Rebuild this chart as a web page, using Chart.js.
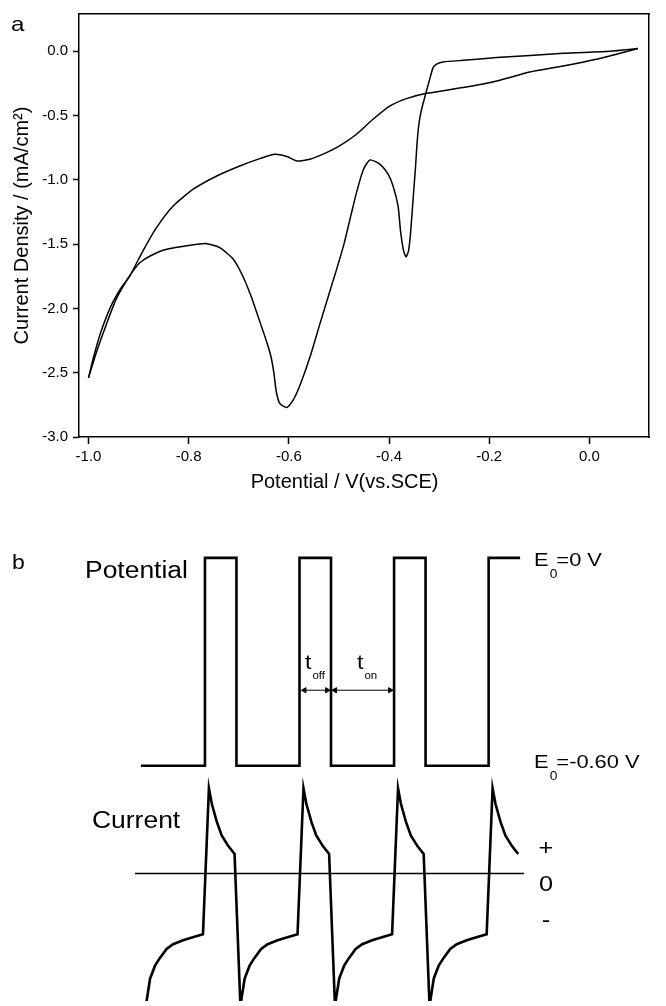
<!DOCTYPE html>
<html lang="en">
<head>
<meta charset="UTF-8">
<title>Cyclic voltammogram and pulse scheme</title>
<script src="https://cdn.jsdelivr.net/npm/chart.js"></script>
<style>
    body { margin: 0; padding: 0; background: #fff; }
    #wrap { position: relative; width: 666px; height: 1006px; }
    canvas { position: absolute; left: 0; }
    #cvChart { top: 0; }
    #pulseChart { top: 500px; }
</style>
</head>
<body>
<div id="wrap">
    <canvas id="cvChart" width="666" height="500"></canvas>
    <canvas id="pulseChart" width="666" height="506"></canvas>
</div>
<script>
// ---- panel a: cyclic voltammogram (V vs SCE, mA/cm2) ----
// cathodic scan, 0.1 V -> -1.0 V
const fwdV = [0.097, 0.041, -0.052, -0.185, -0.252, -0.292, -0.305, -0.312, -0.318, -0.328,
    -0.335, -0.340, -0.344, -0.347, -0.352, -0.357, -0.361, -0.366, -0.371, -0.377,
    -0.382, -0.392, -0.402, -0.418, -0.438, -0.451, -0.465, -0.478, -0.490, -0.505,
    -0.520, -0.538, -0.558, -0.578, -0.591, -0.604, -0.618, -0.625, -0.630, -0.636,
    -0.646, -0.660, -0.676, -0.693, -0.711, -0.738, -0.764, -0.797, -0.844, -0.877,
    -0.897, -0.911, -0.925, -0.945, -0.965, -0.985, -1.000];
const fwdJ = [0.021, 0.000, -0.016, -0.049, -0.070, -0.083, -0.100, -0.127, -0.205, -0.348,
    -0.451, -0.555, -0.710, -0.892, -1.151, -1.410, -1.550, -1.600, -1.550, -1.400,
    -1.203, -1.047, -0.956, -0.879, -0.845, -0.918, -1.099, -1.306, -1.500, -1.700,
    -1.890, -2.120, -2.380, -2.600, -2.710, -2.770, -2.740, -2.650, -2.500, -2.370,
    -2.240, -2.080, -1.900, -1.740, -1.617, -1.527, -1.496, -1.508, -1.540, -1.592,
    -1.643, -1.708, -1.790, -1.930, -2.130, -2.350, -2.540];
// anodic scan, -1.0 V -> 0.1 V
const revV = [-1.000, -0.990, -0.975, -0.955, -0.935, -0.918, -0.891, -0.864, -0.831, -0.791,
    -0.744, -0.698, -0.658, -0.628, -0.604, -0.584, -0.558, -0.525, -0.498, -0.465,
    -0.432, -0.398, -0.365, -0.325, -0.252, -0.185, -0.119, -0.052, 0.014, 0.067, 0.097];
const revJ = [-2.540, -2.380, -2.180, -1.980, -1.840, -1.750, -1.550, -1.370, -1.203, -1.073,
    -0.970, -0.892, -0.835, -0.801, -0.819, -0.853, -0.840, -0.788, -0.734, -0.645,
    -0.529, -0.425, -0.368, -0.327, -0.282, -0.231, -0.161, -0.114, -0.062, -0.010, 0.021];

const xMajor = [-1.0, -0.8, -0.6, -0.4, -0.2, 0.0];
const xMinor = [-1.0, -0.9, -0.8, -0.7, -0.6, -0.5, -0.4, -0.3, -0.2, -0.1, 0.0, 0.1];
const yMajor = [-3.0, -2.5, -2.0, -1.5, -1.0, -0.5, 0.0];
const yMinor = [-3.0, -2.75, -2.5, -2.25, -2.0, -1.75, -1.5, -1.25, -1.0, -0.75, -0.5, -0.25, 0.0, 0.25];

// ---- panel b: pulse scheme (t in pulse periods) ----
const potT = [0.323, 1.0, 1.0, 1.333, 1.333, 2.0, 2.0, 2.333, 2.333, 3.0, 3.0, 3.333, 3.333, 4.0, 4.0, 4.333];
const potE = [-0.6, -0.6, 0, 0, -0.6, -0.6, 0, 0, -0.6, -0.6, 0, 0, -0.6, -0.6, 0, 0];

const curT = [0.375, 0.420, 0.472, 0.524, 0.594, 0.663, 0.768, 0.872, 0.979,
    1.042, 1.073, 1.125, 1.177, 1.247, 1.313,
    1.375, 1.420, 1.472, 1.524, 1.594, 1.663, 1.768, 1.872, 1.979,
    2.042, 2.073, 2.125, 2.177, 2.247, 2.313,
    2.375, 2.420, 2.472, 2.524, 2.594, 2.663, 2.768, 2.872, 2.979,
    3.042, 3.073, 3.125, 3.177, 3.247, 3.313,
    3.375, 3.420, 3.472, 3.524, 3.594, 3.663, 3.768, 3.872, 3.979,
    4.042, 4.073, 4.125, 4.177, 4.247, 4.313];
const curI = [-1.55, -1.23, -1.08, -0.989, -0.885, -0.828, -0.782, -0.747, -0.713,
    1.0, 0.816, 0.609, 0.448, 0.322, 0.23,
    -1.55, -1.23, -1.08, -0.989, -0.885, -0.828, -0.782, -0.747, -0.713,
    1.0, 0.816, 0.609, 0.448, 0.322, 0.23,
    -1.55, -1.23, -1.08, -0.989, -0.885, -0.828, -0.782, -0.747, -0.713,
    1.0, 0.816, 0.609, 0.448, 0.322, 0.23,
    -1.55, -1.23, -1.08, -0.989, -0.885, -0.828, -0.782, -0.747, -0.713,
    1.0, 0.816, 0.609, 0.448, 0.322, 0.23];
const zeroT = [0.26, 4.375];
const zeroI = [0, 0];
const toffT = [2.052, 2.292];
const tonT = [2.375, 2.958];
const arrowE = [-0.382, -0.382];

const FONT = '"Liberation Sans", Arial, sans-serif';
Chart.defaults.font.family = FONT;
Chart.defaults.color = '#000';

const pts = (xs, ys) => xs.map((x, i) => ({ x: x, y: ys[i] }));
const fmt = v => (Math.abs(v) < 1e-9 ? 0 : v).toFixed(1);
const setTicks = arr => scale => { scale.ticks = arr.map(v => ({ value: v })); };

// text slightly widened, like the original figure
function label(ctx, str, x, y, size, align) {
    ctx.save();
    ctx.font = size + 'px ' + FONT;
    ctx.fillStyle = '#000';
    ctx.textAlign = align || 'left';
    ctx.textBaseline = 'middle';
    ctx.translate(x, y);
    ctx.scale(1.15, 1);
    ctx.fillText(str, 0, 0);
    const w = ctx.measureText(str).width * 1.15;
    ctx.restore();
    return w;
}

const X_MIN = -1.019, X_MAX = 0.119, Y_MIN = -3.0, Y_MAX = 0.29;
const frame = { display: true, width: 1.5, color: '#000' };
const tickGrid = len => ({ drawOnChartArea: false, tickLength: len, tickWidth: 1.5, tickColor: '#000' });

const cvLine = { showLine: true, borderColor: '#000', borderWidth: 1.5, pointRadius: 0, tension: 0.2 };

new Chart(document.getElementById('cvChart'), {
    type: 'scatter',
    data: {
        datasets: [
            Object.assign({ data: pts(fwdV, fwdJ) }, cvLine),
            Object.assign({ data: pts(revV, revJ) }, cvLine)
        ]
    },
    options: {
        responsive: false,
        animation: false,
        layout: { padding: { left: 0, top: 14, right: 17, bottom: 0 } },
        plugins: { legend: { display: false }, tooltip: { enabled: false } },
        scales: {
            x: {
                type: 'linear', position: 'bottom', min: X_MIN, max: X_MAX,
                afterBuildTicks: setTicks(xMajor),
                afterFit: s => { s.height = 63; },
                grid: tickGrid(7),
                border: frame,
                ticks: { padding: 4, font: { size: 15 }, maxRotation: 0, autoSkip: false, callback: fmt },
                title: { display: true, text: 'Potential / V(vs.SCE)\u00a0\u00a0\u00a0\u00a0\u00a0\u00a0\u00a0', font: { size: 20 }, padding: { top: 0, bottom: 6 } }
            },
            xMinor: {
                type: 'linear', position: 'bottom', min: X_MIN, max: X_MAX,
                afterBuildTicks: setTicks(xMinor),
                afterFit: s => { s.height = 0; },
                grid: tickGrid(4),
                border: { display: false },
                ticks: { display: false }
            },
            xTop: {
                type: 'linear', position: 'top', min: X_MIN, max: X_MAX,
                afterFit: s => { s.height = 0; },
                grid: { display: false, drawTicks: false },
                border: frame,
                ticks: { display: false }
            },
            y: {
                type: 'linear', position: 'left', min: Y_MIN, max: Y_MAX,
                afterBuildTicks: setTicks(yMajor),
                afterFit: s => { s.width = 79; },
                grid: tickGrid(6),
                border: frame,
                ticks: { padding: 5, font: { size: 15 }, autoSkip: false, callback: fmt },
                title: { display: true, text: 'Current Density / (mA/cm\u00b2)', font: { size: 20 }, padding: { top: 10, bottom: 0 } }
            },
            yMinor: {
                type: 'linear', position: 'left', min: Y_MIN, max: Y_MAX,
                afterBuildTicks: setTicks(yMinor),
                afterFit: s => { s.width = 0; },
                grid: tickGrid(3),
                border: { display: false },
                ticks: { display: false }
            },
            yRight: {
                type: 'linear', position: 'right', min: Y_MIN, max: Y_MAX,
                afterFit: s => { s.width = 0; },
                grid: { display: false, drawTicks: false },
                border: frame,
                ticks: { display: false }
            }
        }
    },
    plugins: [{
        id: 'panelA',
        afterDraw(chart) {
            label(chart.ctx, 'a', 11, 25, 21);
        }
    }]
});

const thick = { showLine: true, borderColor: '#000', borderWidth: 2.6, pointRadius: 0, tension: 0, borderJoinStyle: 'miter' };
const arrow = {
    showLine: true, borderColor: '#000', borderWidth: 1, yAxisID: 'yPot',
    pointStyle: 'triangle', pointRadius: 3, pointRotation: [270, 90],
    pointBackgroundColor: '#000', pointBorderColor: '#000', pointBorderWidth: 1
};

new Chart(document.getElementById('pulseChart'), {
    type: 'scatter',
    data: {
        datasets: [
            Object.assign({ data: pts(potT, potE), yAxisID: 'yPot' }, thick),
            Object.assign({ data: pts(curT, curI), yAxisID: 'yCur' }, thick),
            { data: pts(zeroT, zeroI), yAxisID: 'yCur', showLine: true, borderColor: '#000', borderWidth: 1.5, pointRadius: 0 },
            Object.assign({ data: pts(toffT, arrowE) }, arrow),
            Object.assign({ data: pts(tonT, arrowE) }, arrow)
        ]
    },
    options: {
        responsive: false,
        animation: false,
        layout: { padding: 0 },
        plugins: { legend: { display: false }, tooltip: { enabled: false } },
        scales: {
            x: { type: 'linear', display: false, min: -1.1146, max: 5.8229 },
            yPot: { type: 'linear', display: false, min: -1.2793, max: 0.1528 },
            yCur: { type: 'linear', display: false, min: -1.4943, max: 4.3218 }
        }
    },
    plugins: [{
        id: 'panelB',
        afterDraw(chart) {
            const ctx = chart.ctx;
            const xs = chart.scales.x, yp = chart.scales.yPot, yc = chart.scales.yCur;
            label(ctx, 'b', 12, 63, 20);
            label(ctx, 'Potential', 85, 72, 23);
            label(ctx, 'Current', 92, 322, 23);

            const ex = xs.getPixelForValue(4.333) + 14;
            [[0, '=0 V'], [-0.6, '=-0.60 V']].forEach(([lvl, rest]) => {
                const y = yp.getPixelForValue(lvl) + (lvl === 0 ? 3 : -3);
                const w = label(ctx, 'E', ex, y, 19);
                const ws = label(ctx, '0', ex + w + 1, y + 14, 12);
                label(ctx, rest, ex + w + ws, y, 19);
            });

            const y0 = yc.getPixelForValue(0);
            label(ctx, '+', 546, y0 - 25, 22, 'center');
            label(ctx, '0', 546, y0 + 11, 22, 'center');
            label(ctx, '-', 546, y0 + 47, 22, 'center');

            const ya = yp.getPixelForValue(arrowE[0]);
            let w = label(ctx, 't', 305, ya - 27, 20);
            label(ctx, 'off', 305 + w + 1, ya - 14, 10);
            w = label(ctx, 't', 357, ya - 27, 20);
            label(ctx, 'on', 357 + w + 1, ya - 14, 10);
        }
    }]
});
</script>
</body>
</html>
